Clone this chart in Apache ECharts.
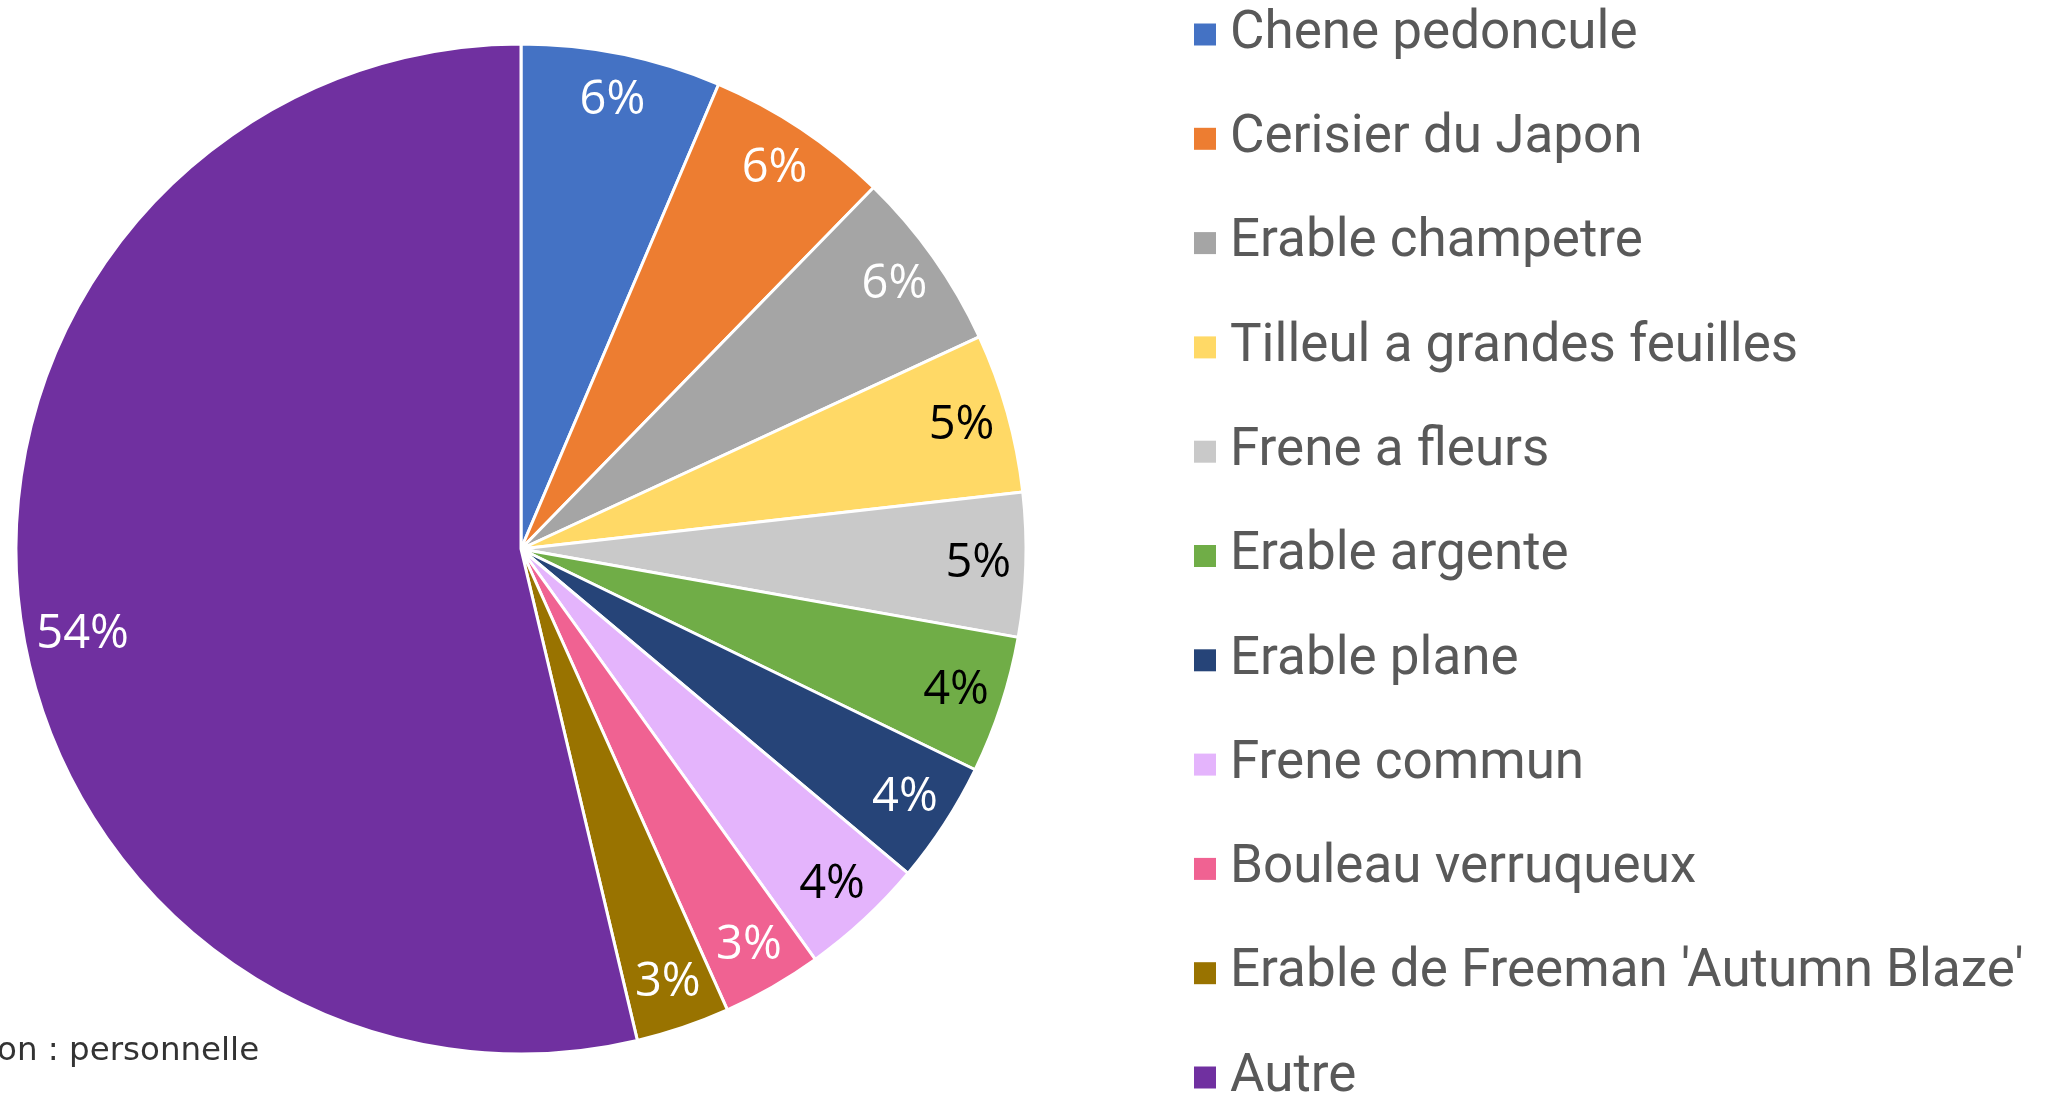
<!DOCTYPE html>
<html>
<head>
<meta charset="utf-8">
<script src="https://cdn.jsdelivr.net/npm/echarts@6/dist/echarts.min.js"></script>
<style>
  html, body { margin: 0; padding: 0; background: #fff; }
  #main { width: 2060px; height: 1093px; }
</style>
</head>
<body>
<div id="main"></div>
<script>
// essences (part en %)
var names = ['Chene pedoncule', 'Cerisier du Japon', 'Erable champetre', 'Tilleul a grandes feuilles',
    'Frene a fleurs', 'Erable argente', 'Erable plane', 'Frene commun', 'Bouleau verruqueux',
    "Erable de Freeman 'Autumn Blaze'", 'Autre'];
var values = [6.4, 5.9, 5.8, 5.1, 4.6, 4.4, 3.9, 4.0, 3.2, 3.0, 53.7];
var colors = ['#4472C4', '#ED7D31', '#A5A5A5', '#FFD966', '#C9C9C9', '#70AD47',
    '#264478', '#E4B4FC', '#F06292', '#997300', '#7030A0'];
var labelColors = ['#fff', '#fff', '#fff', '#000', '#000', '#000', '#fff', '#000', '#fff', '#fff', '#fff'];

var myChart = echarts.init(document.getElementById('main'));

var R = 505;
var pieData = names.map(function (n, i) {
    return { name: n, value: values[i] };
});
var labelData = names.map(function (n, i) {
    var item = { name: n, value: values[i], label: { color: labelColors[i] } };
    if (n === 'Autre') item.label.offset = [16, 33];   // comme le "meilleur ajustement" d'Excel
    return item;
});

myChart.setOption({
    animation: false,
    color: colors,
    legend: {
        orient: 'vertical',
        left: 1189,
        top: 3,
        height: 1200,
        icon: 'rect',
        itemWidth: 22,
        itemHeight: 22,
        itemGap: 51.3,
        itemStyle: { borderWidth: 0 },
        selectedMode: false,
        data: names,
        textStyle: {
            fontFamily: 'Roboto',
            fontSize: 53,
            color: '#595959',
            padding: [0, 0, 0, 9]
        }
    },
    graphic: [{
        type: 'text',
        left: -3,
        top: 1035,
        style: {
            text: 'on : personnelle',
            font: '32.5px "DejaVu Sans"',
            fill: '#333'
        }
    }],
    series: [
        {
            // parts
            type: 'pie',
            center: [521, 549],
            radius: [0, R],
            startAngle: 90,
            clockwise: true,
            silent: true,
            itemStyle: { borderColor: '#fff', borderWidth: 3 },
            label: { show: false },
            labelLine: { show: false },
            data: pieData
        },
        {
            // étiquettes placées près du bord
            type: 'pie',
            center: [521, 549],
            radius: [R * 0.8, R],
            startAngle: 90,
            clockwise: true,
            silent: true,
            itemStyle: { color: 'transparent', borderWidth: 0 },
            label: {
                show: true,
                position: 'inside',
                fontFamily: 'Open Sans',
                fontSize: 47,
                formatter: function (p) { return Math.round(p.percent) + '%'; }
            },
            labelLine: { show: false },
            data: labelData
        }
    ]
});
</script>
</body>
</html>
